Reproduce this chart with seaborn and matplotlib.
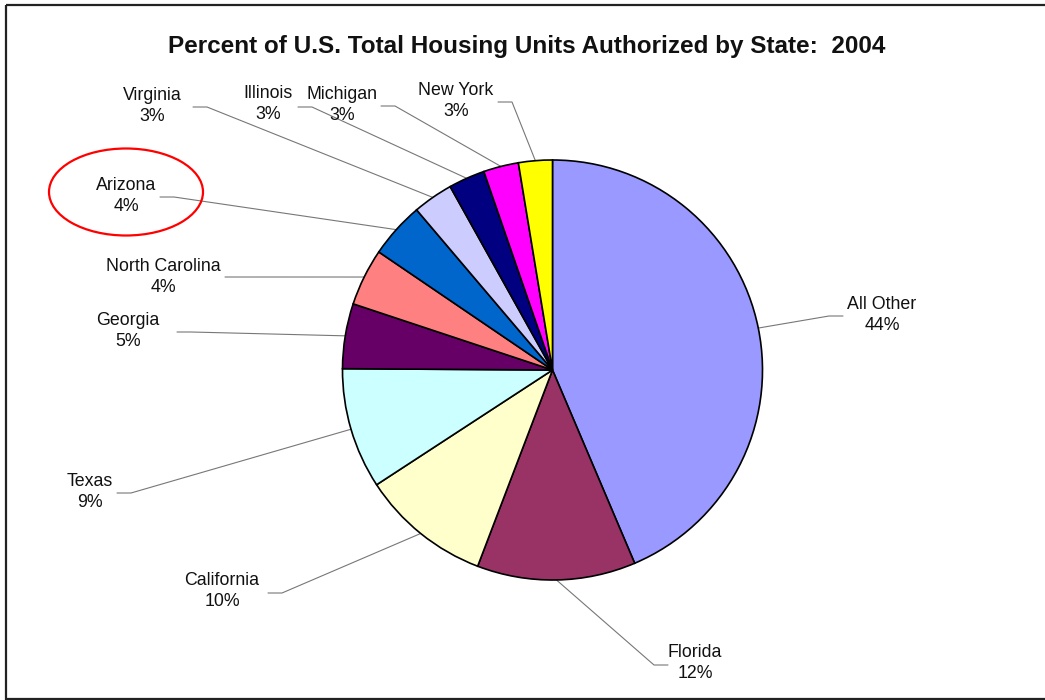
import numpy as np
import matplotlib
matplotlib.use("Agg")
import matplotlib.pyplot as plt
import seaborn as sns
from matplotlib.patches import Ellipse, Rectangle

# Data (clockwise from 12 o'clock)
states = ["All Other", "Florida", "California", "Texas", "Georgia",
          "North Carolina", "Arizona", "Virginia", "Illinois", "Michigan",
          "New York"]
shares = [43.6, 12.2, 10.0, 9.3, 5.0, 4.4, 4.3, 3.1, 2.8, 2.7, 2.6]
colors = ["#9999FF", "#993366", "#FFFFCC", "#CCFFFF", "#660066",
          "#FF8080", "#0066CC", "#CCCCFF", "#000080", "#FF00FF", "#FFFF00"]

title = "Percent of U.S. Total Housing Units Authorized by State:  2004"

# layout in pixel coords (y down): label centre, leader start
label_pos = {
    "All Other": ((882, 315), (843, 316)),
    "Florida": ((695, 663), (668, 665)),
    "California": ((222, 591), (268, 593)),
    "Texas": ((90, 492), (117, 493)),
    "Georgia": ((128, 331), (177, 332)),
    "North Carolina": ((163, 277), (225, 277)),
    "Arizona": ((126, 196), (160, 197)),
    "Virginia": ((152, 106), (193, 107)),
    "Illinois": ((268, 104), (298, 107)),
    "Michigan": ((342, 105), (381, 106)),
    "New York": ((456, 101), (498, 102)),
}
center = (552.5, 370)
radius = 210

sns.set_theme(style="white")
plt.rcParams["font.family"] = ["Liberation Sans", "DejaVu Sans"]

fig = plt.figure(figsize=(10.45, 7), dpi=100)
ax = fig.add_axes([0, 0, 1, 1])

# y axis is inverted below, so counterclock=True draws clockwise on screen
wedges, _ = ax.pie(shares, colors=colors, startangle=-90, counterclock=True,
                   center=center, radius=radius,
                   wedgeprops=dict(edgecolor="black", linewidth=1.2))
ax.set_xlim(0, 1045)
ax.set_ylim(700, 0)
ax.set_aspect("equal")
ax.axis("off")

for w, name, s in zip(wedges, states, shares):
    (tx, ty), (lx, ly) = label_pos[name]
    mid = np.deg2rad((w.theta1 + w.theta2) / 2)
    ex = center[0] + radius * np.cos(mid)
    ey = center[1] + radius * np.sin(mid)
    step = 14 if lx < center[0] else -14
    ax.plot([lx, lx + step, ex], [ly, ly, ey], color="#777777", lw=0.8,
            zorder=0)
    ax.text(tx, ty, f"{name}\n{s:.0f}%", ha="center", va="center",
            fontsize=12.8, linespacing=1.3, color="#111111")

ax.text(527, 47, title, ha="center", va="center", fontsize=17.5,
        fontweight="bold", color="#111111")

# highlight ring and chart frame
ax.add_patch(Ellipse((126, 192), 154, 87, edgecolor="red", fill=False,
                     lw=1.6))
ax.add_patch(Rectangle((6, 5), 1100, 694, edgecolor="#222222", fill=False,
                       lw=1.6))

fig.savefig("out.png", dpi=100)
